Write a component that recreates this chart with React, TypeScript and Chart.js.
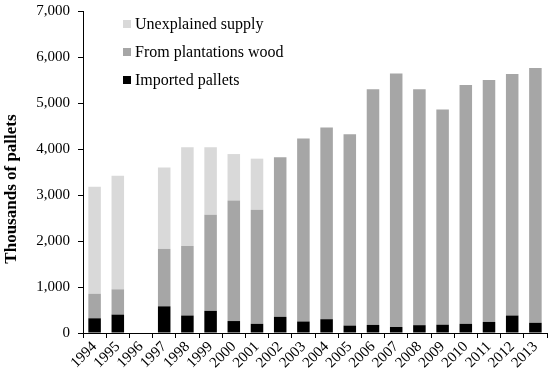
import React, { useEffect, useRef } from "react";
import { Chart, registerables } from "chart.js";

Chart.register(...registerables);

const years = ["1994","1995","1996","1997","1998","1999","2000","2001","2002","2003","2004","2005","2006","2007","2008","2009","2010","2011","2012","2013"];
const importedPallets = [320, 400, null, 580, 380, 480, 260, 200, 350, 250, 300, 160, 175, 130, 170, 180, 200, 240, 380, 220];
const plantationsWood = [530, 550, null, 1250, 1510, 2090, 2620, 2480, 3470, 3980, 4170, 4160, 5125, 5510, 5130, 4680, 5190, 5260, 5250, 5540];
const unexplainedSupply = [2330, 2470, null, 1770, 2150, 1470, 1010, 1110, null, null, null, null, null, null, null, null, null, null, null, null];
const yTicks = [0, 1000, 2000, 3000, 4000, 5000, 6000, 7000];

const FONT = '"Liberation Serif", "Times New Roman", serif';
const COLORS = { unexplained: "#d9d9d9", plantations: "#a6a6a6", imported: "#000000" };

const overlayPlugin = {
  id: "overlay",
  afterDraw(chart: any) {
    const ctx = chart.ctx;
    const area = chart.chartArea;
    ctx.save();
    const items = [
      { label: "Unexplained supply", color: COLORS.unexplained },
      { label: "From plantations wood", color: COLORS.plantations },
      { label: "Imported pallets", color: COLORS.imported },
    ];
    ctx.font = `16px ${FONT}`;
    ctx.textBaseline = "middle";
    ctx.textAlign = "left";
    items.forEach((it, i) => {
      const y = 24 + i * 28;
      ctx.fillStyle = it.color;
      ctx.fillRect(123, y - 4, 8, 8);
      ctx.fillStyle = "#000";
      ctx.fillText(it.label, 135, y + 1);
    });
    ctx.translate(12, 189);
    ctx.rotate(-Math.PI / 2);
    ctx.font = `bold 17px ${FONT}`;
    ctx.textAlign = "center";
    ctx.textBaseline = "middle";
    ctx.fillText("Thousands of pallets", 0, 0);
    ctx.restore();
  },
};

export default function App() {
  const ref = useRef<HTMLCanvasElement | null>(null);
  useEffect(() => {
    if (!ref.current) return;
    const chart = new Chart(ref.current, {
      type: "bar",
      data: {
        labels: years,
        datasets: [
          { label: "Imported pallets", data: importedPallets, backgroundColor: COLORS.imported },
          { label: "From plantations wood", data: plantationsWood, backgroundColor: COLORS.plantations },
          { label: "Unexplained supply", data: unexplainedSupply, backgroundColor: COLORS.unexplained },
        ],
      },
      options: {
        animation: false,
        responsive: false,
        maintainAspectRatio: false,
        layout: { padding: { top: 11, right: 3, left: 0, bottom: 0 } },
        plugins: { legend: { display: false }, tooltip: { enabled: false } },
        datasets: { bar: { barPercentage: 0.54, categoryPercentage: 1 } },
        scales: {
          x: {
            stacked: true,
            grid: { display: true, drawOnChartArea: false, drawTicks: true, tickLength: 5, color: "#000", offset: true },
            border: { display: true, color: "#000" },
            ticks: { color: "#000", font: { family: FONT, size: 15 }, maxRotation: 45, minRotation: 45, autoSkip: false, padding: 0 },
            afterFit(scale: any) { scale.height = 43; scale.paddingLeft = 0; scale.paddingRight = 0; },
          },
          y: {
            stacked: true,
            min: 0,
            max: 7000,
            afterBuildTicks(scale: any) { scale.ticks = yTicks.map((v) => ({ value: v })); },
            grid: { display: true, drawOnChartArea: false, drawTicks: true, tickLength: 5, color: "#000" },
            border: { display: true, color: "#000" },
            ticks: {
              color: "#000",
              font: { family: FONT, size: 15 },
              padding: 8,
              callback: (v: any) => Number(v).toLocaleString("en-US"),
            },
            afterFit(scale: any) { scale.width = 83; scale.paddingTop = 0; scale.paddingBottom = 0; },
          },
        },
      },
      plugins: [overlayPlugin],
    });
    return () => chart.destroy();
  }, []);
  return (
    <div style={{ position: "absolute", left: 0, top: 0, width: 550, height: 376, background: "#fff" }}>
      <canvas ref={ref} width={550} height={376} style={{ width: 550, height: 376 }} />
    </div>
  );
}
